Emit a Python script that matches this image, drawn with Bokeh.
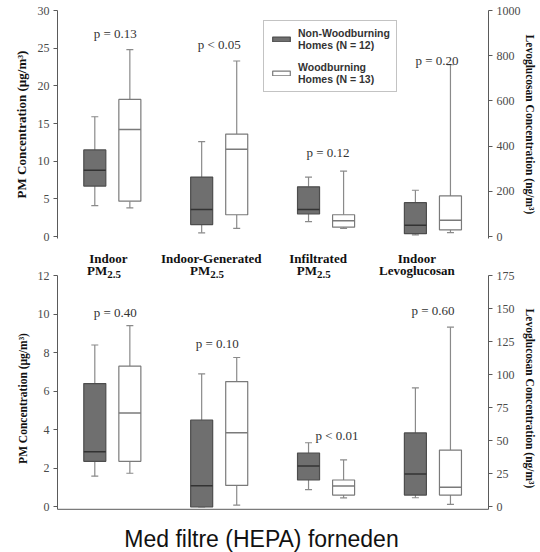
from bokeh.plotting import figure
from bokeh.models import (Range1d, LinearAxis, FixedTicker, ColumnDataSource,
                          Legend, LegendItem, Span)
from bokeh.layouts import column
from bokeh.embed import file_html
from bokeh.resources import INLINE
from bokeh.core.properties import value

# ---------------- data ----------------
groups = ["Indoor PM2.5", "Indoor-Generated PM2.5", "Infiltrated PM2.5", "Indoor Levoglucosan"]
group_line1 = ["Indoor", "Indoor-Generated", "Infiltrated", "Indoor"]
group_line2 = ["PM", "PM", "PM", "Levoglucosan"]
group_sub = ["2.5", "2.5", "2.5", ""]

# top panel (no filter) - first three in µg/m3, last in ng/m3
top_nw_low = [4.1, 0.5, 2.0, 8]
top_nw_q1 = [6.7, 1.6, 3.0, 13]
top_nw_med = [8.8, 3.6, 3.6, 50]
top_nw_q3 = [11.5, 7.9, 6.6, 150]
top_nw_high = [15.9, 12.6, 7.9, 205]
top_w_low = [3.8, 1.1, 1.1, 18]
top_w_q1 = [4.7, 2.9, 1.25, 30]
top_w_med = [14.2, 11.6, 2.1, 72]
top_w_q3 = [18.2, 13.6, 2.9, 180]
top_w_high = [24.8, 23.3, 8.7, 760]
top_p = ["p = 0.13", "p < 0.05", "p = 0.12", "p = 0.20"]

# bottom panel (with HEPA filter)
bot_nw_low = [1.6, 0.0, 0.9, 7]
bot_nw_q1 = [2.37, 0.0, 1.4, 9]
bot_nw_med = [2.86, 1.1, 2.13, 25]
bot_nw_q3 = [6.4, 4.5, 2.8, 56]
bot_nw_high = [8.4, 6.9, 3.33, 90]
bot_w_low = [1.75, 0.1, 0.47, 2]
bot_w_q1 = [2.37, 1.12, 0.62, 9]
bot_w_med = [4.87, 3.85, 1.09, 15]
bot_w_q3 = [7.3, 6.5, 1.4, 43]
bot_w_high = [9.4, 7.75, 2.44, 136]
bot_p = ["p = 0.40", "p = 0.10", "p < 0.01", "p = 0.60"]

top_left_ticks = [0, 5, 10, 15, 20, 25, 30]
top_right_ticks = [0, 200, 400, 600, 800, 1000]
bot_left_ticks = [0, 2, 4, 6, 8, 10, 12]
bot_right_ticks = [0, 25, 50, 75, 100, 125, 150, 175]

legend_labels = ["Non-Woodburning\nHomes (N = 12)", "Woodburning\nHomes (N = 13)"]
caption = "Med filtre (HEPA) forneden"

# ---------------- placement / style ----------------
top_p_y = [27.0, 25.5, 11.1, 23.3]
bot_p_y = [10.1, 8.5, 3.7, 10.2]
top_p_dx = [3, 0, 2, 4]
bot_p_dx = [3, -2, 11, 0]
cat_dx = [-4, -8, -8, -16]

SERIF = value("Liberation Serif")
GRAY_FILL = "#6f6f6f"
GRAY_LINE = "#4d4d4d"
WHITE_LINE = "#7a7a7a"
WHISK = "#8a8a8a"
AX = "#5a5a5a"
TICKLAB = "#4a4a4a"

gx = list(range(1, len(groups) + 1))
OFF = 0.164
BW = 0.206


def style_axis(ax, ticks, size="12px"):
    ax.ticker = FixedTicker(ticks=ticks)
    ax.minor_tick_line_color = None
    ax.major_tick_in = 0
    ax.major_tick_out = 4
    ax.major_tick_line_color = AX
    ax.axis_line_color = AX
    ax.major_label_text_font = "Liberation Serif"
    ax.major_label_text_font_size = size
    ax.major_label_text_color = TICKLAB
    ax.major_label_standoff = 4
    ax.axis_label_text_font = "Liberation Serif"
    ax.axis_label_text_font_style = "bold"
    ax.axis_label_text_color = "#111111"


def draw_boxes(p, lo, q1, med, q3, hi, xs, fill, line, medc, range_name, idx):
    src = ColumnDataSource(dict(
        x=[xs[i] for i in idx], lo=[lo[i] for i in idx], q1=[q1[i] for i in idx],
        med=[med[i] for i in idx], q3=[q3[i] for i in idx], hi=[hi[i] for i in idx],
        x0=[xs[i] - BW / 2 for i in idx], x1=[xs[i] + BW / 2 for i in idx]))
    kw = {} if range_name is None else {"y_range_name": range_name}
    p.segment("x", "q3", "x", "hi", source=src, line_color=WHISK, line_width=1.2, **kw)
    p.segment("x", "lo", "x", "q1", source=src, line_color=WHISK, line_width=1.2, **kw)
    p.scatter("x", "hi", source=src, marker="dash", size=7, line_color=WHISK, line_width=1.2, **kw)
    p.scatter("x", "lo", source=src, marker="dash", size=7, line_color=WHISK, line_width=1.2, **kw)
    r = p.vbar(x="x", width=BW, bottom="q1", top="q3", source=src, fill_color=fill,
               line_color=line, line_width=1.2, **kw)
    p.segment("x0", "med", "x1", "med", source=src, line_color=medc, line_width=1.5, **kw)
    return r


def panel(p, nw, w, pl, py, pdx, rn):
    nwx = [g - OFF for g in gx]
    wx = [g + OFF for g in gx]
    r_nw = draw_boxes(p, *nw, nwx, GRAY_FILL, GRAY_LINE, "#333333", None, [0, 1, 2])
    draw_boxes(p, *nw, nwx, GRAY_FILL, GRAY_LINE, "#333333", rn, [3])
    r_w = draw_boxes(p, *w, wx, "white", WHITE_LINE, WHITE_LINE, None, [0, 1, 2])
    draw_boxes(p, *w, wx, "white", WHITE_LINE, WHITE_LINE, rn, [3])
    p.text(x=gx, y=py, text=pl, x_offset=pdx, text_align="center", text_baseline="middle",
           text_font=SERIF, text_font_size="13px", text_color="#333333")
    return r_nw, r_w


# ---------------- top figure ----------------
XR = Range1d(0.487, 4.52)
p1 = figure(width=540, height=244, x_range=XR, y_range=Range1d(-0.25, 30),
            output_backend="svg", toolbar_location=None, x_axis_location=None,
            min_border_left=57, min_border_right=52, min_border_top=10, min_border_bottom=6)
p1.extra_y_ranges = {"levo": Range1d(-0.25 * 1000 / 30, 1000)}
p1.grid.visible = False
p1.outline_line_color = None
style_axis(p1.yaxis[0], top_left_ticks)
p1.yaxis[0].axis_label = "PM Concentration (µg/m³)"
p1.yaxis[0].axis_label_text_font_size = "13px"
p1.yaxis[0].axis_label_standoff = 6
ax_r1 = LinearAxis(y_range_name="levo", axis_label="Levoglucosan Concentration (ng/m³)")
style_axis(ax_r1, top_right_ticks)
ax_r1.axis_label_text_font_size = "11.5px"
ax_r1.axis_label_standoff = 0
p1.add_layout(ax_r1, "right")

r_nw, r_w = panel(p1, (top_nw_low, top_nw_q1, top_nw_med, top_nw_q3, top_nw_high),
                  (top_w_low, top_w_q1, top_w_med, top_w_q3, top_w_high),
                  top_p, top_p_y, top_p_dx, "levo")

legend = Legend(items=[LegendItem(label=legend_labels[0], renderers=[r_nw]),
                       LegendItem(label=legend_labels[1], renderers=[r_w])],
                location=(206, 146), glyph_width=22, glyph_height=6, spacing=10,
                padding=6, margin=0, label_standoff=6,
                label_text_font="Liberation Sans", label_text_font_style="bold",
                label_text_font_size="10.5px", label_text_color="#333333",
                border_line_color="#888888", border_line_width=1.2)
p1.add_layout(legend)

# ---------------- bottom figure ----------------
f = 175 / 12
ytop2 = 13.61
ybot2 = -2.36      # frame extends below the x-axis line to hold the caption
xline = -0.12      # y of the bottom axis line
p2 = figure(width=540, height=308, x_range=XR, y_range=Range1d(ybot2, ytop2),
            output_backend="svg", toolbar_location=None, x_axis_location=None,
            min_border_left=57, min_border_right=52, min_border_top=0, min_border_bottom=0)
p2.extra_y_ranges = {"levo2": Range1d(ybot2 * f, ytop2 * f)}
p2.grid.visible = False
p2.outline_line_color = None
style_axis(p2.yaxis[0], bot_left_ticks)
p2.yaxis[0].bounds = (xline, 12)
p2.yaxis[0].axis_label = "PM Concentration (µg/m³)"
p2.yaxis[0].axis_label_text_font_size = "11.5px"
p2.yaxis[0].axis_label_standoff = 6
ax_r2 = LinearAxis(y_range_name="levo2", axis_label="Levoglucosan Concentration (ng/m³)")
style_axis(ax_r2, bot_right_ticks)
ax_r2.bounds = (xline * f, 175)
ax_r2.axis_label_text_font_size = "11.5px"
ax_r2.axis_label_standoff = 6
p2.add_layout(ax_r2, "right")
p2.add_layout(Span(location=xline, dimension="width", line_color=AX, line_width=1))

panel(p2, (bot_nw_low, bot_nw_q1, bot_nw_med, bot_nw_q3, bot_nw_high),
      (bot_w_low, bot_w_q1, bot_w_med, bot_w_q3, bot_w_high),
      bot_p, bot_p_y, bot_p_dx, "levo2")

# category labels between the panels
p2.text(x=gx, y=[12.88] * 4, text=group_line1, x_offset=cat_dx, text_align="center",
        text_baseline="middle", text_font=SERIF, text_font_style="bold",
        text_font_size="13px", text_color="#111111")
pm_idx = [i for i in range(4) if group_sub[i]]
p2.text(x=[gx[i] for i in pm_idx], y=[12.26] * len(pm_idx), text=[group_line2[i] for i in pm_idx],
        x_offset=[cat_dx[i] - 1 for i in pm_idx], text_align="right", text_baseline="middle",
        text_font=SERIF, text_font_style="bold", text_font_size="13px", text_color="#111111")
p2.text(x=[gx[i] for i in pm_idx], y=[12.26] * len(pm_idx), text=[group_sub[i] for i in pm_idx],
        x_offset=[cat_dx[i] - 1 for i in pm_idx], y_offset=4, text_align="left",
        text_baseline="middle", text_font=SERIF, text_font_style="bold",
        text_font_size="11px", text_color="#111111")
other_idx = [i for i in range(4) if not group_sub[i]]
p2.text(x=[gx[i] for i in other_idx], y=[12.26] * len(other_idx),
        text=[group_line2[i] for i in other_idx], x_offset=[cat_dx[i] for i in other_idx],
        text_align="center", text_baseline="middle", text_font=SERIF, text_font_style="bold",
        text_font_size="13px", text_color="#111111")

# caption below the lower panel
xmid = (XR.start + XR.end) / 2
p2.text(x=[xmid], y=[-1.68], text=[caption], x_offset=-11.5, text_align="center",
        text_baseline="middle", text_font=value("Liberation Sans"), text_font_size="23px",
        text_color="#111111")

layout = column(p1, p2)
open("out.html", "w").write(file_html(layout, INLINE))
